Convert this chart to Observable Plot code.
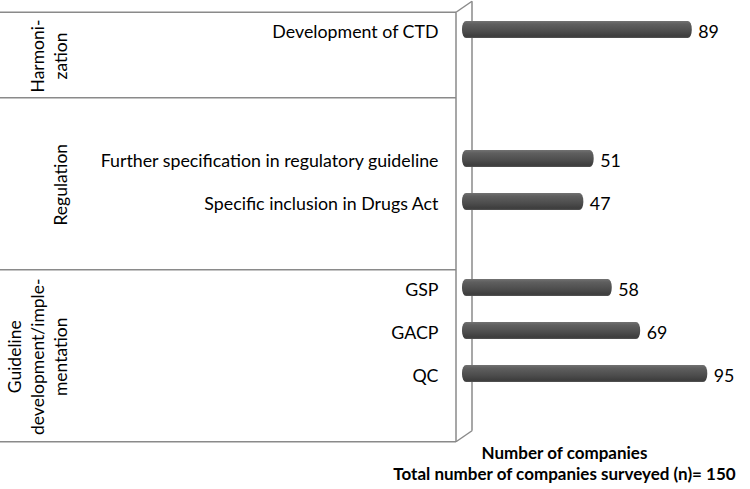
<!DOCTYPE html>
<html><head><meta charset="utf-8">
<script src="https://cdn.jsdelivr.net/npm/d3@7"></script>
<script src="https://cdn.jsdelivr.net/npm/@observablehq/plot@0.6"></script>
<style>html,body{margin:0;padding:0;background:#fff} #chart svg{display:block}</style>
</head><body><div id="chart"></div>
<script>
// ---- data ----
const groups = ["Harmoni-\nzation", "Regulation", "Guideline\ndevelopment/imple-\nmentation"];
const categories = ["Development of CTD", "Further specification in regulatory guideline", "Specific inclusion in Drugs Act", "GSP", "GACP", "QC"];
const categoryGroup = [0, 1, 1, 2, 2, 2];
const values = [89, 51, 47, 58, 69, 95];
const xTitle = "Number of companies";
const note = "Total number of companies surveyed (n)= 150";

// ---- layout (empty slots as in the original multi-level axis) ----
const groupPadding = [[0, 1], [1, 1], [0, 1]];
const FONT = "Lato, 'Open Sans', sans-serif";
const padInner = 0.6;

const data = categories.map((c, i) => ({category: c, value: values[i], group: categoryGroup[i]}));
const domain = [];
const spans = [];
let pk = 0;
groups.forEach((g, gi) => {
  const start = domain.length;
  const [before, after] = groupPadding[gi];
  for (let i = 0; i < before; i++) domain.push("__pad" + pk++);
  data.filter(d => d.group === gi).forEach(d => domain.push(d.category));
  for (let i = 0; i < after; i++) domain.push("__pad" + pk++);
  spans.push({label: g, start, end: domain.length - 1});
});

const plot = Plot.plot({
  width: 750, height: 489,
  marginLeft: 462, marginRight: 4, marginTop: 8, marginBottom: 51,
  style: {fontFamily: FONT, background: "#fff", color: "#000", overflow: "visible"},
  x: {domain: [0, 110], axis: null},
  y: {domain, paddingInner: padInner, paddingOuter: padInner / 2, axis: null},
  marks: [
    Plot.axisY({tickSize: 0, tickPadding: 24, fontSize: 17.8, dy: 2, label: null,
      tickFormat: d => d.startsWith("__pad") ? "" : d}),
    Plot.barX(data, {x: "value", y: "category", fill: "url(#cyl)", rx: 4, ry: 8}),
    Plot.text(data, {x: "value", y: "category", text: d => String(d.value), textAnchor: "start", dx: 6, dy: 2, fontSize: 17.8, fill: "#000"}),
    Plot.text([xTitle], {frameAnchor: "bottom", lineAnchor: "middle", dx: -40, dy: 15, fontWeight: "bold", fontSize: 17, fill: "#000"}),
    Plot.text([note], {frameAnchor: "bottom", lineAnchor: "middle", dx: -40, dy: 36, fontWeight: "bold", fontSize: 17, fill: "#000"})
  ]
});

const svg = d3.select(plot);
// gradient for the cylinder bars
const defs = svg.insert("defs", ":first-child");
const grad = defs.append("linearGradient").attr("id", "cyl").attr("x1", 0).attr("y1", 0).attr("x2", 0).attr("y2", 1);
[[0, "#727272"], [0.18, "#5f5f5f"], [0.6, "#4d4d4d"], [0.9, "#3d3d3d"], [1, "#555"]].forEach(([o, c]) =>
  grad.append("stop").attr("offset", o).attr("stop-color", c));

// 3D category box derived from scales
const ys = plot.scale("y"), xs = plot.scale("x");
const bw = ys.bandwidth, step = bw / (1 - padInner);
const slotTop = v => ys.apply(v) - step * padInner / 2;
const x0 = xs.apply(0);
const front = 4, frontX = x0 - 6, depthX = 16, depthY = -11;
const bounds = [slotTop(domain[0]) + front];
spans.forEach(s => bounds.push(slotTop(domain[s.end]) + step + front));
const box = svg.insert("g", "g").attr("stroke", "#8a8a8a").attr("stroke-width", 1.5).attr("fill", "none");
bounds.forEach(b => box.append("line").attr("x1", 0).attr("x2", frontX).attr("y1", b).attr("y2", b));
const yTop = bounds[0], yBot = bounds[bounds.length - 1];
box.append("line").attr("x1", frontX).attr("x2", frontX).attr("y1", yTop).attr("y2", yBot);
box.append("line").attr("x1", frontX + depthX).attr("x2", frontX + depthX).attr("y1", yTop + depthY).attr("y2", yBot + depthY);
box.append("line").attr("x1", frontX).attr("x2", frontX + depthX).attr("y1", yTop).attr("y2", yTop + depthY);
box.append("line").attr("x1", frontX).attr("x2", frontX + depthX).attr("y1", yBot).attr("y2", yBot + depthY);

// rotated group labels
const gl = svg.append("g").attr("font-family", FONT).attr("font-size", 17.5).attr("fill", "#000").attr("text-anchor", "middle");
spans.forEach((s, i) => {
  const yc = (bounds[i] + bounds[i + 1]) / 2 + 1;
  const lines = s.label.split("\n");
  const t = gl.append("text").attr("transform", `translate(67,${yc}) rotate(-90)`);
  lines.forEach((ln, k) => t.append("tspan").attr("x", 0).attr("y", -(lines.length - 1 - k) * 23).text(ln));
});

document.getElementById("chart").append(plot);
</script>
</body></html>
